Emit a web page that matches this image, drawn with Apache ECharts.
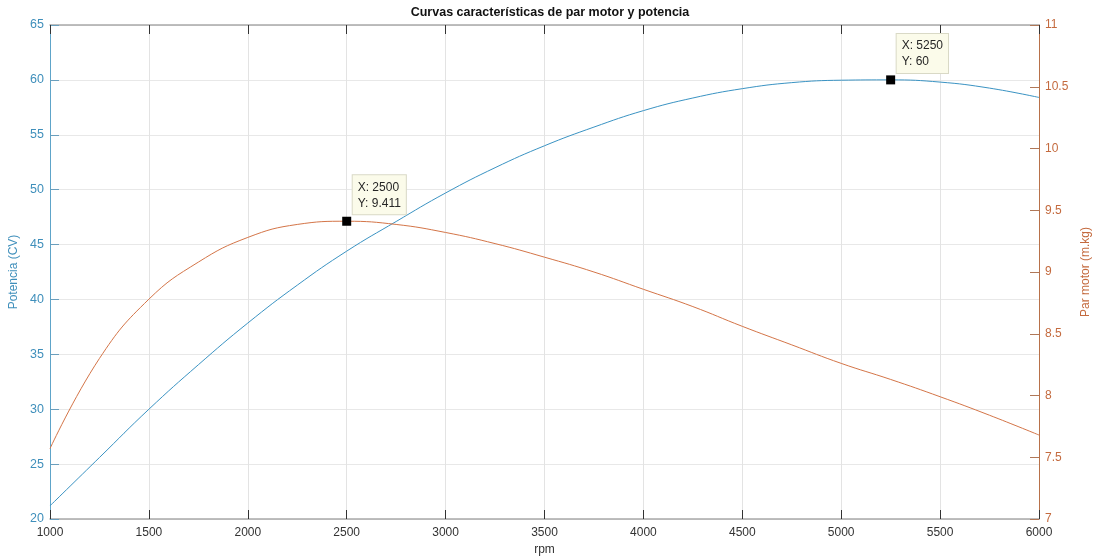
<!DOCTYPE html>
<html>
<head>
<meta charset="utf-8">
<script src="https://cdn.jsdelivr.net/npm/echarts@6/dist/echarts.min.js"></script>
<style>
html,body{margin:0;padding:0;background:#fff;}
#chart{width:1094px;height:560px;}
</style>
</head>
<body>
<div id="chart"></div>
<script>
// rpm samples
var rpm = [1000,1250,1500,1750,2000,2250,2500,2750,3000,3250,3500,3750,4000,4250,4500,4750,5000,5250,5500,5750,6000];
// Potencia (CV)
var potencia = [21.2,25.6,30.0,34.05,37.85,41.3,44.4,47.1,49.7,52.0,54.0,55.7,57.2,58.35,59.2,59.75,59.97,60.0,59.8,59.25,58.4];
// Par motor (m.kg)
var par = [7.57,8.30,8.78,9.08,9.28,9.385,9.411,9.385,9.32,9.23,9.12,9.00,8.86,8.72,8.56,8.41,8.26,8.13,7.99,7.84,7.68];
// data tips
var tipPot = [5250, 60];
var tipPar = [2500, 9.411];

var blue = '#3a93c3';
var orange = '#d47548';
var blueTxt = '#3f8fbb';
var orangeTxt = '#c46a3e';
var font = '"Liberation Sans", Arial, Helvetica, sans-serif';

function pairs(xs, ys){ return xs.map(function(x,i){ return [x, ys[i]]; }); }

var tipLabel = {
  show: true,
  position: [10.5, -41.5],
  backgroundColor: '#fbfbea',
  borderColor: '#d9d9c6',
  borderWidth: 1,
  padding: [4, 5, 3, 5],
  lineHeight: 16,
  color: '#262626',
  fontSize: 12,
  fontFamily: font
};

var chart = echarts.init(document.getElementById('chart'));
chart.setOption({
  animation: false,
  backgroundColor: '#ffffff',
  title: {
    text: 'Curvas características de par motor y potencia',
    left: 545, top: 1, textAlign: 'center',
    textStyle: {fontFamily: font, fontSize: 12.5, fontWeight: 'bold', color: '#111'}
  },
  grid: {left: 50, right: 55, top: 25, bottom: 41, containLabel: false, outerBoundsMode: 'none'},
  xAxis: [{
    type: 'value', min: 1000, max: 6000, interval: 500,
    name: 'rpm', nameLocation: 'middle', nameGap: 24,
    nameTextStyle: {fontFamily: font, fontSize: 12, color: '#333'},
    axisLine: {show: true, onZero: false, lineStyle: {color: '#a9a9a9', width: 1.5}},
    axisTick: {show: true, inside: true, length: 9, lineStyle: {color: '#333'}},
    axisLabel: {fontFamily: font, fontSize: 12, color: '#333', margin: 8,
      formatter: function(v){ return String(v); }},
    splitLine: {show: true, lineStyle: {color: '#e3e3e3', width: 1}}
  }, {
    type: 'value', min: 1000, max: 6000, interval: 500, position: 'top',
    axisLine: {show: true, onZero: false, lineStyle: {color: '#a9a9a9', width: 1.5}},
    axisTick: {show: true, inside: true, length: 9, lineStyle: {color: '#333'}},
    axisLabel: {show: false},
    splitLine: {show: false}
  }],
  yAxis: [{
    type: 'value', min: 20, max: 65, interval: 5, position: 'left',
    name: 'Potencia (CV)', nameLocation: 'middle', nameGap: 21,
    nameTextStyle: {fontFamily: font, fontSize: 12, color: blueTxt},
    axisLine: {show: true, onZero: false, lineStyle: {color: '#5ea4c9', width: 1}},
    axisTick: {show: true, inside: true, length: 9, lineStyle: {color: '#6a9fbd'}},
    axisLabel: {fontFamily: font, fontSize: 12.5, color: blueTxt, margin: 6},
    splitLine: {show: true, lineStyle: {color: '#e8e8e8', width: 1}}
  }, {
    type: 'value', min: 7, max: 11, interval: 0.5, position: 'right',
    name: 'Par motor (m.kg)', nameLocation: 'middle', nameGap: 38,
    nameTextStyle: {fontFamily: font, fontSize: 12, color: orangeTxt},
    axisLine: {show: true, onZero: false, lineStyle: {color: '#b8714a', width: 1}},
    axisTick: {show: true, inside: true, length: 9, lineStyle: {color: '#b07858'}},
    axisLabel: {fontFamily: font, fontSize: 12, color: orangeTxt, margin: 6},
    splitLine: {show: false}
  }],
  series: [{
    type: 'line', name: 'Potencia', xAxisIndex: 0, yAxisIndex: 0,
    data: pairs(rpm, potencia),
    showSymbol: false, smooth: 0.45,
    lineStyle: {color: blue, width: 1},
    itemStyle: {color: blue},
    markPoint: {
      symbol: 'rect', symbolSize: 9,
      itemStyle: {color: '#000'},
      label: tipLabel,
      data: [{coord: tipPot, label: {formatter: 'X: ' + tipPot[0] + '\nY: ' + tipPot[1]}}]
    }
  }, {
    type: 'line', name: 'Par motor', xAxisIndex: 0, yAxisIndex: 1,
    data: pairs(rpm, par),
    showSymbol: false, smooth: 0.45,
    lineStyle: {color: orange, width: 1},
    itemStyle: {color: orange},
    markPoint: {
      symbol: 'rect', symbolSize: 9,
      itemStyle: {color: '#000'},
      label: tipLabel,
      data: [{coord: tipPar, label: {formatter: 'X: ' + tipPar[0] + '\nY: ' + tipPar[1]}}]
    }
  }]
});
</script>
</body>
</html>
